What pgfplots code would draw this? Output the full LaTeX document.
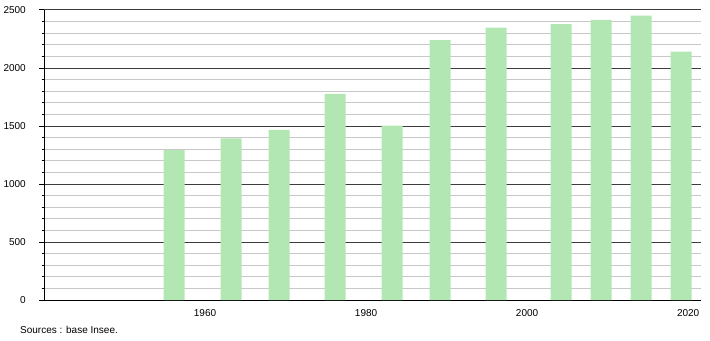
\documentclass[border=0pt]{standalone}
\usepackage{fontspec}
\setmainfont{Liberation Sans}
\usepackage{pgfplots}
\pgfplotsset{compat=1.18}
\definecolor{barg}{RGB}{178,230,178}
\definecolor{majgrid}{RGB}{60,60,60}
\definecolor{mingrid}{RGB}{200,200,200}
\begin{document}
\begin{tikzpicture}[x=1bp,y=1bp]
\path[use as bounding box] (0,0) rectangle (710,340);
\begin{axis}[
  at={(44bp,40bp)}, anchor=south west,
  scale only axis, width=657bp, height=290bp,
  xmin=1940, xmax=2021.6, ymin=0, ymax=2500,
  axis lines=left, axis line style={-, black, line width=1bp},
  xtick={1960,1980,2000,2020},
  ytick={0,500,1000,1500,2000,2500},
  minor ytick={100,200,300,400,600,700,800,900,1100,1200,1300,1400,1600,1700,1800,1900,2100,2200,2300,2400},
  ymajorgrids, yminorgrids,
  major grid style={majgrid, line width=1bp},
  minor grid style={mingrid, line width=1bp},
  tick align=outside,
  major tick length=5bp, minor tick length=2.5bp,
  ytick style={black, line width=1bp},
  xtick style={draw=none},
  /pgf/number format/1000 sep={},
  /pgf/number format/assume math mode=true,
  ticklabel style={font=\fontsize{10bp}{12bp}\selectfont},
  yticklabel style={inner sep=0pt, anchor=east, xshift=-13bp},
  xticklabel style={inner sep=0pt, anchor=north, yshift=-4.5bp},
  ybar, bar width=21bp,
  clip=false,
]
\addplot[fill=barg, draw=none] coordinates {
(1956.15,1293) (1963.23,1394) (1969.19,1466) (1976.15,1778) (1983.23,1503)
(1989.19,2241) (1996.15,2347) (2004.22,2379) (2009.19,2414) (2014.16,2451) (2019.13,2141)
};
\end{axis}
\node[anchor=base west, inner sep=0pt, font=\fontsize{10bp}{12bp}\selectfont] at (20,7) {Sources : base Insee.};
\end{tikzpicture}
\end{document}
